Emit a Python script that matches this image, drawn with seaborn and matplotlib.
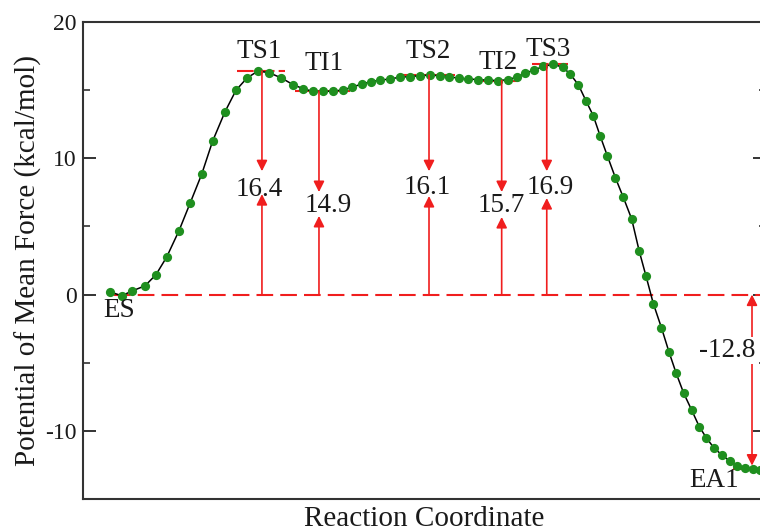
import numpy as np
import pandas as pd
import matplotlib
matplotlib.use("Agg")
import matplotlib.pyplot as plt
import seaborn as sns
from matplotlib.ticker import MultipleLocator, NullLocator

# ---------------- data ----------------
reaction_coord = [0.395, 0.567, 0.722, 0.908, 1.069, 1.225, 1.406, 1.567, 1.738, 1.898,
                  2.079, 2.240, 2.401, 2.562, 2.723, 2.906, 3.075, 3.221, 3.367, 3.509,
                  3.655, 3.801, 3.939, 4.078, 4.217, 4.348, 4.495, 4.641, 4.788, 4.934,
                  5.081, 5.227, 5.363, 5.510, 5.641, 5.788, 5.934, 6.081, 6.227, 6.350,
                  6.471, 6.603, 6.739, 6.886, 7.023, 7.130, 7.252, 7.365, 7.471, 7.574,
                  7.679, 7.796, 7.911, 8.033, 8.145, 8.243, 8.350, 8.469, 8.582, 8.686,
                  8.796, 8.911, 9.023, 9.126, 9.236, 9.358, 9.467, 9.580, 9.693, 9.810,
                  9.912]
pmf = [0.20, -0.09, 0.27, 0.64, 1.46, 2.75, 4.69, 6.69, 8.83, 11.26,
       13.41, 14.99, 15.89, 16.40, 16.28, 15.89, 15.40, 15.11, 14.90, 14.90,
       14.93, 15.00, 15.22, 15.44, 15.62, 15.73, 15.82, 15.95, 15.99, 16.06,
       16.10, 16.06, 15.99, 15.86, 15.82, 15.77, 15.73, 15.70, 15.77, 15.96,
       16.24, 16.47, 16.74, 16.90, 16.68, 16.20, 15.40, 14.21, 13.12, 11.61,
       10.15, 8.56, 7.13, 5.55, 3.16, 1.36, -0.66, -2.43, -4.25, -5.79,
       -7.25, -8.47, -9.69, -10.51, -11.24, -11.79, -12.21, -12.58, -12.75, -12.80,
       -12.85]

state_names = ["ES", "TS1", "TI1", "TS2", "TI2", "TS3", "EA1"]
state_coord = [0.53, 2.62, 3.455, 5.066, 6.13, 6.79, 9.795]
state_energy = [0.0, 16.4, 14.9, 16.1, 15.7, 16.9, -12.8]

y_ticks = [-10, 0, 10, 20]

df = pd.DataFrame({"rc": reaction_coord, "pmf": pmf})

# ---------------- layout / style ----------------
RED = "#f01e1e"
GREEN = "#1f8f1f"
FONT = ["Liberation Serif", "DejaVu Serif"]

sns.set_theme(style="ticks")
plt.rcParams["font.family"] = FONT
plt.rcParams["axes.unicode_minus"] = False

fig = plt.figure(figsize=(7.6, 5.31), dpi=100)
ax = fig.add_axes([0.1092, 0.0603, 0.8987, 0.8983])

# level segments (left, right extents around each state)
seg_ext = {"ES": (0.45, 0.75), "TS1": (2.25, 2.96), "TI1": (3.10, 3.91),
           "TS2": (4.64, 5.45), "TI2": (5.86, 6.35), "TS3": (6.57, 7.10),
           "EA1": (9.52, 10.0)}
# name label positions
name_pos = {"ES": (0.53, -1.17), "TS1": (2.58, 17.8), "TI1": (3.53, 16.93),
            "TS2": (5.05, 17.8), "TI2": (6.08, 17.0), "TS3": (6.81, 17.96),
            "EA1": (9.24, -13.65)}
# value label positions and arrow tips (upper tip, lower tip)
val_pos = {"TS1": (2.58, 7.74), "TI1": (3.59, 6.5), "TS2": (5.04, 7.88),
           "TI2": (6.13, 6.5), "TS3": (6.84, 7.88)}
tips = {"TS1": (9.05, 7.37), "TI1": (7.52, 5.77), "TS2": (9.05, 7.23),
        "TI2": (7.52, 5.69), "TS3": (9.05, 7.08)}

# zero reference dashed line
ax.plot([seg_ext["ES"][0], 10.2], [0, 0], color=RED, lw=1.5,
        dashes=(8, 3.4), zorder=1)

for name, xs, e in zip(state_names, state_coord, state_energy):
    if name == "ES":
        continue
    x0, x1 = seg_ext[name]
    ax.plot([x0, x1], [e, e], color=RED, lw=1.5, dashes=(8, 2), zorder=1)

# curve + points
sns.lineplot(data=df, x="rc", y="pmf", color="black", lw=1.1, ax=ax,
             zorder=2, sort=False, estimator=None)
sns.scatterplot(data=df, x="rc", y="pmf", color=GREEN, s=44, linewidth=0,
                ax=ax, zorder=3)

arrow_kw = dict(arrowstyle="-|>,head_length=0.8,head_width=0.4", color=RED,
                lw=1.2, shrinkA=0, shrinkB=0, mutation_scale=8)

for name, xs, e in zip(state_names, state_coord, state_energy):
    nx, ny = name_pos[name]
    ax.text(nx, ny, name, ha="center", va="center", fontsize=19.5,
            color="#1a1a1a", zorder=5)
    if name in val_pos:
        up_tip, low_tip = tips[name]
        ax.annotate("", xy=(xs, up_tip), xytext=(xs, e), arrowprops=arrow_kw,
                    zorder=4)
        ax.annotate("", xy=(xs, low_tip), xytext=(xs, 0), arrowprops=arrow_kw,
                    zorder=4)
        vx, vy = val_pos[name]
        ax.text(vx, vy, f"{e:.1f}", ha="center", va="center", fontsize=19.5,
                color="#1a1a1a", zorder=5)

# EA1 reaction energy arrows
ea_x = state_coord[-1]
ea_e = state_energy[-1]
ax.annotate("", xy=(ea_x, 0), xytext=(ea_x, -3.35), arrowprops=arrow_kw, zorder=4)
ax.annotate("", xy=(ea_x, ea_e + 0.25), xytext=(ea_x, -5.0), arrowprops=arrow_kw,
            zorder=4)
ax.text(9.43, -4.1, f"{ea_e:.1f}", ha="center", va="center", fontsize=19.5,
        color="#1a1a1a", zorder=5,
        bbox=dict(facecolor="white", edgecolor="none", pad=0.5))

# axes formatting
ax.set_xlim(0, 10)
ax.set_ylim(-15, 20)
ax.set_yticks(y_ticks)
ax.yaxis.set_minor_locator(MultipleLocator(5))
ax.xaxis.set_major_locator(NullLocator())
ax.xaxis.set_minor_locator(NullLocator())
ax.tick_params(axis="y", which="major", direction="in", length=9.4, width=1.4,
               labelsize=17, pad=4.5, left=True, right=True, colors="#333333",
               labelcolor="#1a1a1a")
ax.tick_params(axis="y", which="minor", direction="in", length=5, width=1.2,
               left=True, right=True, colors="#333333")
for sp in ax.spines.values():
    sp.set_visible(True)
    sp.set_linewidth(1.5)
    sp.set_color("#333333")

ax.set_xlabel("Reaction Coordinate", fontsize=21, labelpad=5, color="#1a1a1a")
ax.set_ylabel("Potential of Mean Force (kcal/mol)", fontsize=21, labelpad=2,
              color="#1a1a1a")

fig.savefig("out.png", dpi=100)
